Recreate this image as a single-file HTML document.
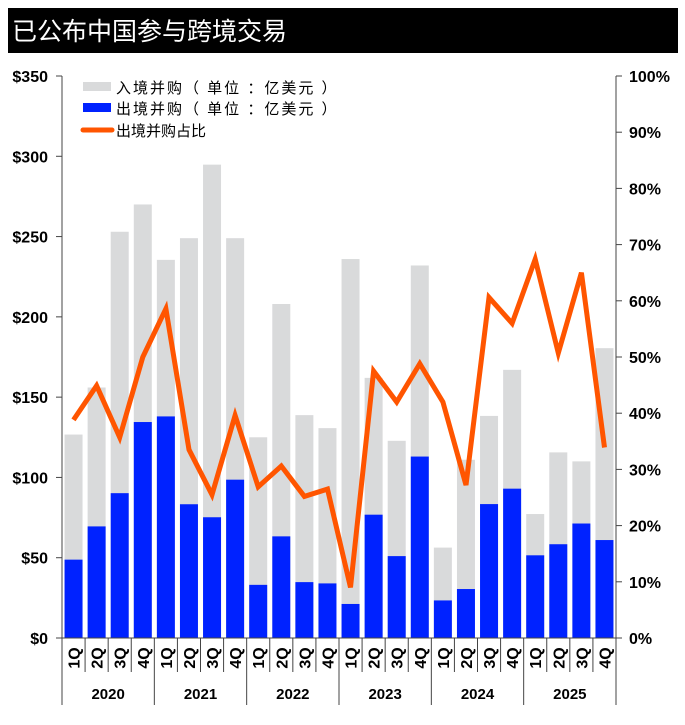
<!DOCTYPE html>
<html><head><meta charset="utf-8"><style>
body{margin:0;background:#fff;}
svg text{font-family:"Liberation Sans","Noto Sans CJK SC",sans-serif;}
</style></head><body>
<svg width="685" height="720" viewBox="0 0 685 720" xmlns="http://www.w3.org/2000/svg">
<rect x="8" y="8" width="670" height="45" fill="#000"/>
<text x="12" y="40" fill="#fff" font-size="25">已公布中国参与跨境交易</text>
<g id="plot"></g>
</svg>
<script>
const quarters=["1Q","2Q","3Q","4Q","1Q","2Q","3Q","4Q","1Q","2Q","3Q","4Q","1Q","2Q","3Q","4Q","1Q","2Q","3Q","4Q","1Q","2Q","3Q","4Q"];
const years=["2020","2021","2022","2023","2024","2025"];
const totalDeals=[126.7,156,253,270,235.5,249,294.8,249,125,208,138.8,130.7,236,162,122.8,232,56.3,111,138.3,167,77.2,115.6,110,180.5];
const outboundDeals=[48.8,69.5,90.2,134.5,138,83.3,75.2,98.6,33.1,63.3,34.8,34,21.2,76.8,51,113,23.4,30.5,83.4,93,51.5,58.4,71.3,61];
const outboundShare=[38.8,44.9,35.7,50,58.6,33.5,25.5,39.6,26.9,30.6,25.2,26.5,9,47.5,42,48.8,42,27.2,60.6,56,67.4,50.7,65,33.9];
const leftTicks=[0,50,100,150,200,250,300,350];
const rightTicks=[0,10,20,30,40,50,60,70,80,90,100];

const NS="http://www.w3.org/2000/svg";
const g=document.getElementById('plot');
const X0=62,X1=616,Y0=638,Y1=76;
const slot=(X1-X0)/quarters.length;
const yL=v=>Y0-(v/350)*(Y0-Y1);
const yR=v=>Y0-(v/100)*(Y0-Y1);
const xc=i=>X0+slot*(i+0.5);
function mk(tag,attrs,txt){const e=document.createElementNS(NS,tag);for(const k in attrs)e.setAttribute(k,attrs[k]);if(txt!==undefined)e.textContent=txt;g.appendChild(e);return e;}

totalDeals.forEach((v,i)=>{
 const r=mk('rect',{x:xc(i)-9,y:yL(v),width:18,height:Y0-yL(v),fill:'#d9dadb'});
 
 
});
outboundDeals.forEach((v,i)=>{
 const r=mk('rect',{x:xc(i)-9,y:yL(v),width:18,height:Y0-yL(v),fill:'#0022ff'});
 
 
});
const pts=outboundShare.map((v,i)=>xc(i).toFixed(1)+','+yR(v).toFixed(1)).join(' ');
const pl=mk('polyline',{points:pts,fill:'none',stroke:'#ff5500','stroke-width':5,'stroke-linejoin':'miter'});



let a=mk('line',{x1:X0,y1:Y1,x2:X0,y2:Y0,stroke:'#444','stroke-width':1});


a=mk('line',{x1:X1,y1:Y1,x2:X1,y2:Y0,stroke:'#444','stroke-width':1});


a=mk('line',{x1:X0-6,y1:Y0,x2:X1+6,y2:Y0,stroke:'#444','stroke-width':1});


leftTicks.forEach(v=>{
 mk('line',{x1:X0-6,y1:yL(v),x2:X0,y2:yL(v),stroke:'#444'});
 const t=mk('text',{x:48,y:yL(v)+6,'text-anchor':'end','font-size':16,'font-weight':'bold'},'$'+v);
 
 
});
rightTicks.forEach(v=>{
 mk('line',{x1:X1,y1:yR(v),x2:X1+6,y2:yR(v),stroke:'#444'});
 const t=mk('text',{x:629,y:yR(v)+6,'font-size':16,'font-weight':'bold'},v+'%');
 
 
});
quarters.forEach((q,i)=>{
 const xe=X0+slot*i;
 mk('line',{x1:xe,y1:Y0,x2:xe,y2:(i%4===0)?705:672,stroke:'#444'});
 const t=mk('text',{x:0,y:0,transform:`translate(${xc(i)+6},${658}) rotate(-90)`,'text-anchor':'middle','font-size':16,'font-weight':'bold'},q);
 
 
});
mk('line',{x1:X1,y1:Y0,x2:X1,y2:705,stroke:'#444'});
years.forEach((y,i)=>{
 const t=mk('text',{x:X0+slot*(4*i+2),y:699,'text-anchor':'middle','font-size':15,'font-weight':'bold'},y);
 
 
});
let e=mk('rect',{x:83,y:82,width:28,height:9,fill:'#d9dadb'});


e=mk('text',{x:116,y:93,'font-size':15,'letter-spacing':'2'},'入境并购（ 单位 ：亿美元 ）');


e=mk('rect',{x:83,y:103,width:28,height:9,fill:'#0022ff'});


e=mk('text',{x:116,y:114,'font-size':15,'letter-spacing':'2'},'出境并购（ 单位 ：亿美元 ）');


e=mk('line',{x1:83,y1:130,x2:112,y2:130,stroke:'#ff5500','stroke-width':5,'stroke-linecap':'round'});


e=mk('text',{x:116,y:136,'font-size':15},'出境并购占比');


</script>
</body></html>
